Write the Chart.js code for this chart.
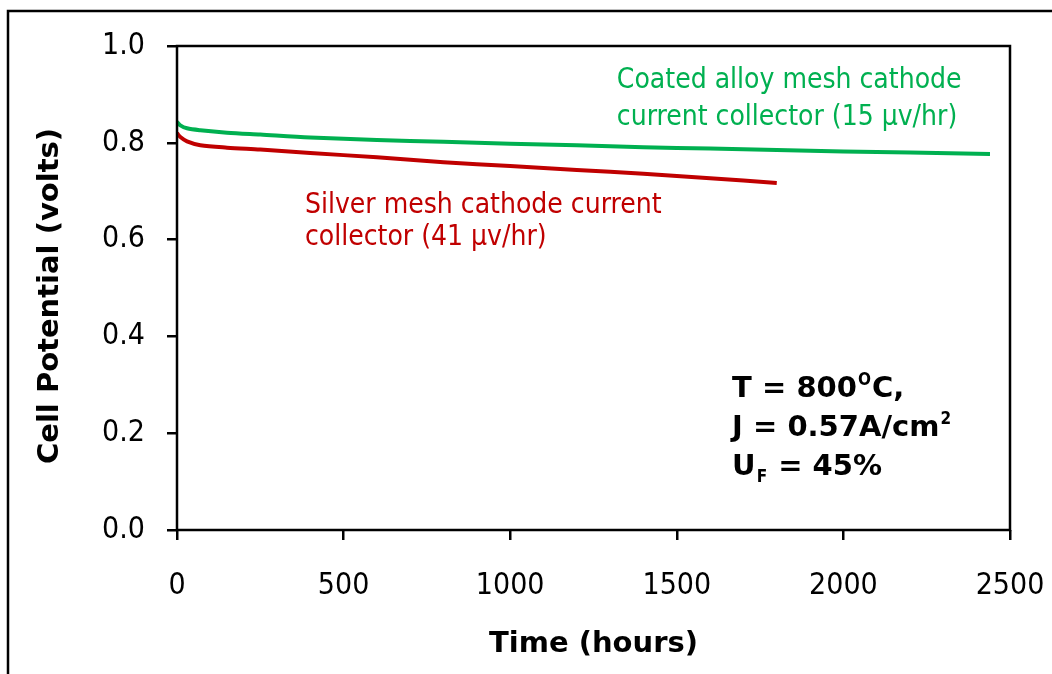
<!DOCTYPE html>
<html>
<head>
<meta charset="utf-8">
<script src="https://cdn.jsdelivr.net/npm/chart.js@4.4.0/dist/chart.umd.min.js"></script>
<style>
  html, body { margin: 0; padding: 0; background: #fff; }
  canvas { display: block; }
</style>
</head>
<body>
<canvas id="cellChart" width="1052" height="674"></canvas>
<script>
// ==================== DATA ====================
const silverHours  = [0, 10, 30, 70, 150, 250, 400, 600, 800, 1000, 1200, 1400, 1600, 1800];
const silverVolts  = [0.820, 0.812, 0.803, 0.795, 0.790, 0.786, 0.779, 0.770, 0.760, 0.752, 0.744, 0.736, 0.727, 0.717];
const coatedHours  = [0, 10, 30, 70, 150, 250, 400, 600, 800, 1000, 1200, 1400, 1600, 1800, 2000, 2200, 2440];
const coatedVolts  = [0.843, 0.836, 0.830, 0.826, 0.821, 0.817, 0.811, 0.806, 0.802, 0.798, 0.795, 0.791, 0.788, 0.785, 0.782, 0.780, 0.777];
const xTicks = [0, 500, 1000, 1500, 2000, 2500];
const yTicks = [0.0, 0.2, 0.4, 0.6, 0.8, 1.0];

const GREEN = '#00b050';
const RED = '#c00000';
const FONT = "Tahoma, 'DejaVu Sans Condensed', 'DejaVu Sans', sans-serif";
const BOLD_FONT = "Tahoma, 'DejaVu Sans', sans-serif";

const toPoints = (xs, ys) => xs.map((x, i) => ({ x: x, y: ys[i] }));

// ==================== FRAME + NOTES PLUGIN ====================
const framePlugin = {
  id: 'frame',
  afterDraw(chart) {
    const c = chart.ctx;
    const a = chart.chartArea;
    const xs = chart.scales.x, ys = chart.scales.y;
    c.save();
    // outer picture border (top + left only visible)
    c.strokeStyle = '#000';
    c.lineWidth = 2.5;
    c.beginPath();
    c.moveTo(1052, 11);
    c.lineTo(8, 11);
    c.lineTo(8, 674);
    c.stroke();
    // plot box
    c.strokeRect(a.left, a.top, a.right - a.left, a.bottom - a.top);

    // y axis title (a bit below the axis centre, like the original)
    c.save();
    c.translate(50, 296);
    c.rotate(-Math.PI / 2);
    c.font = 'bold 29px ' + BOLD_FONT;
    c.fillStyle = '#000';
    c.textAlign = 'center';
    c.textBaseline = 'middle';
    c.fillText('Cell Potential (volts)', 0, 0);
    c.restore();

    // series notes
    c.font = '28px ' + FONT;
    c.textBaseline = 'alphabetic';
    c.fillStyle = GREEN;
    c.fillText('Coated alloy mesh cathode', xs.getPixelForValue(1320), ys.getPixelForValue(0.913));
    c.fillText('current collector (15 \u00b5v/hr)', xs.getPixelForValue(1320), ys.getPixelForValue(0.837));
    c.fillStyle = RED;
    c.fillText('Silver mesh cathode current', xs.getPixelForValue(384), ys.getPixelForValue(0.655));
    c.fillText('collector (41 \u00b5v/hr)', xs.getPixelForValue(384), ys.getPixelForValue(0.589));

    // test conditions
    const bold = 'bold 29px ' + BOLD_FONT;
    const small = 'bold 17px ' + FONT;
    c.fillStyle = '#000';
    let x = xs.getPixelForValue(1666);
    let y = ys.getPixelForValue(0.275);
    c.font = bold; c.fillText('T = 800', x, y);
    let w = c.measureText('T = 800').width;
    c.font = small; c.fillText('O', x + w + 1, y - 12);
    let w2 = c.measureText('O').width;
    c.font = bold; c.fillText('C,', x + w + w2 + 2, y);

    y = ys.getPixelForValue(0.194);
    c.font = bold; c.fillText('J = 0.57A/cm', x, y);
    w = c.measureText('J = 0.57A/cm').width;
    c.font = small; c.fillText('2', x + w + 1, y - 12);

    y = ys.getPixelForValue(0.114);
    c.font = bold; c.fillText('U', x, y);
    w = c.measureText('U').width;
    c.font = small; c.fillText('F', x + w + 1, y + 7);
    w2 = c.measureText('F').width;
    c.font = bold; c.fillText(' = 45%', x + w + w2 + 2, y);
    c.restore();
  }
};

// ==================== CHART ====================
new Chart(document.getElementById('cellChart'), {
  type: 'scatter',
  data: {
    datasets: [
      {
        label: 'Coated alloy mesh cathode current collector',
        data: toPoints(coatedHours, coatedVolts),
        showLine: true,
        borderColor: GREEN,
        backgroundColor: GREEN,
        borderWidth: 4,
        pointRadius: 0,
        tension: 0.3
      },
      {
        label: 'Silver mesh cathode current collector',
        data: toPoints(silverHours, silverVolts),
        showLine: true,
        borderColor: RED,
        backgroundColor: RED,
        borderWidth: 4,
        pointRadius: 0,
        tension: 0.3
      }
    ]
  },
  options: {
    responsive: false,
    animation: false,
    layout: { padding: { left: 0, top: 46, right: 42, bottom: 0 } },
    plugins: { legend: { display: false }, tooltip: { enabled: false } },
    scales: {
      x: {
        type: 'linear',
        min: 0, max: 2500,
        afterBuildTicks: s => { s.ticks = xTicks.map(v => ({ value: v })); },
        afterFit: s => { s.height = 144; s.paddingLeft = 0; s.paddingRight = 0; },
        grid: { drawOnChartArea: false, drawTicks: true, tickLength: 10, color: '#000', lineWidth: 2.5 },
        border: { display: false },
        ticks: { color: '#000', font: { family: FONT, size: 30 }, padding: 28, maxRotation: 0, callback: v => String(v) },
        title: { display: true, text: 'Time (hours)', color: '#000', font: { family: BOLD_FONT, size: 29, weight: 'bold' }, padding: { top: 0, bottom: 12 } }
      },
      y: {
        type: 'linear',
        min: 0, max: 1,
        afterBuildTicks: s => { s.ticks = yTicks.map(v => ({ value: v })); },
        afterFit: s => { s.width = 177; s.paddingTop = 0; s.paddingBottom = 0; },
        grid: { drawOnChartArea: false, drawTicks: true, tickLength: 10, color: '#000', lineWidth: 2.5 },
        border: { display: false },
        ticks: { color: '#000', font: { family: FONT, size: 30 }, padding: 22, callback: v => v.toFixed(1) }
      }
    }
  },
  plugins: [framePlugin]
});
</script>
</body>
</html>
